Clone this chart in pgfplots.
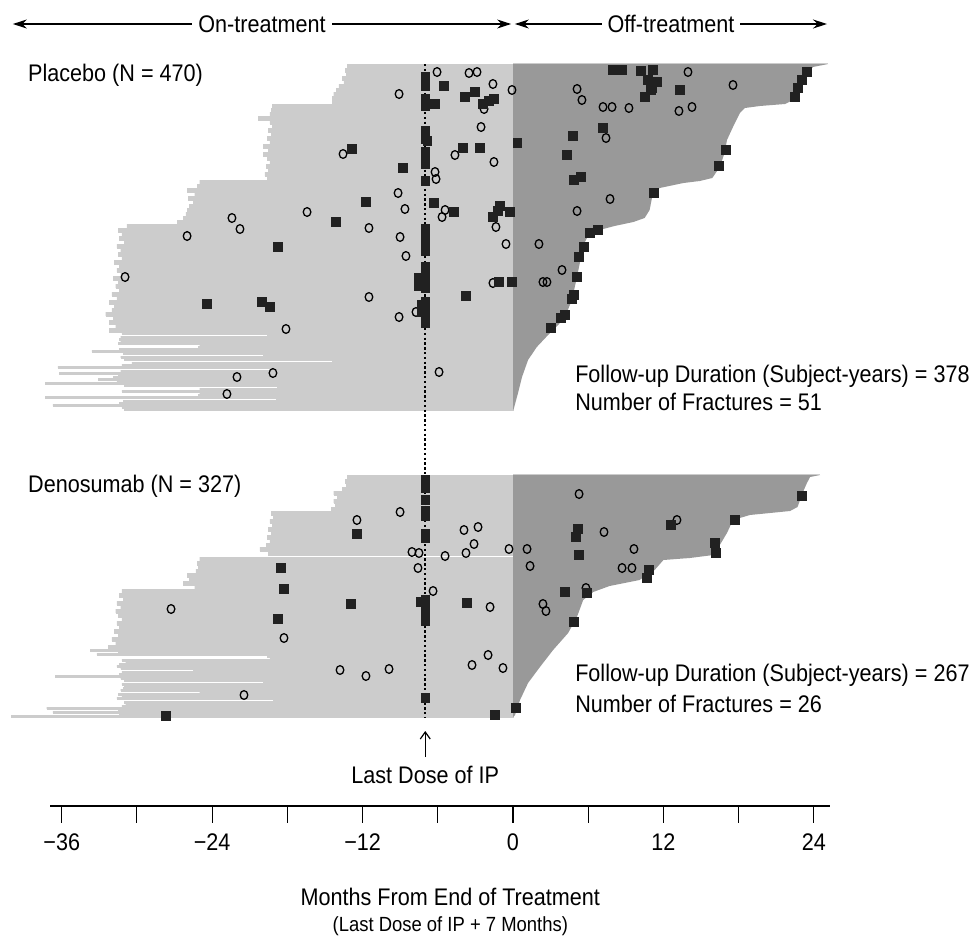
\documentclass[border=0pt]{standalone}
\usepackage{fontspec}
\setmainfont{Liberation Sans}[FakeStretch=0.9]
\usepackage{pgfplots}
\usepackage{pgfplotstable}
\pgfplotsset{compat=1.18}
\usetikzlibrary{arrows.meta}
\definecolor{lightg}{gray}{0.8}
\definecolor{darkg}{gray}{0.6}
\definecolor{mk}{gray}{0.13}

% on-treatment start (months) per row (y = row position)
\pgfplotstableread{
y s
66 -13.2
70 -13.4
74 -13.3
78 -13.6
82 -13.5
86 -13.9
90 -14.1
94 -14.3
98 -14.4
102 -14.4
106 -19.2
110 -19.3
114 -19.4
118 -20.3
122 -19.4
126 -19.2
130 -19.5
134 -19.3
138 -19.6
142 -19.4
146 -19.9
150 -19.5
154 -19.9
158 -19.6
162 -19.4
166 -19.7
170 -19.5
174 -19.8
178 -19.6
182 -25.0
186 -25.2
190 -26.0
194 -25.4
198 -25.9
202 -25.5
206 -25.8
210 -26.0
214 -26.1
218 -26.3
222 -26.8
226 -30.8
230 -31.5
234 -31.2
238 -31.4
242 -31.0
246 -31.6
250 -31.3
254 -31.5
258 -31.2
262 -31.8
266 -31.4
270 -31.6
274 -31.3
278 -31.9
282 -31.5
286 -31.7
290 -31.4
294 -32.0
298 -31.6
302 -32.2
306 -31.8
310 -32.0
314 -32.5
318 -31.9
322 -32.2
326 -31.7
330 -32.2
}\plA
\pgfplotstableread{
y s
333 -31.2
335 -19.6
337 -31.3
339 -31.4
341 -31.3
343 -31.5
345 -25.0
347 -25.1
349 -31.4
351 -33.6
353 -31.1
355 -19.9
357 -31.3
359 -31.0
361 -14.4
363 -30.4
365 -31.2
367 -36.3
369 -19.4
371 -31.3
373 -36.2
375 -31.5
377 -31.9
379 -33.1
381 -31.6
383 -37.3
385 -31.0
387 -18.8
389 -25.0
391 -31.2
393 -25.0
395 -25.1
397 -37.3
399 -18.9
401 -31.1
403 -31.4
405 -36.7
407 -31.2
409 -31.0
}\plE
\pgfplotstableread{
y s
477 -13.2
481 -13.4
485 -13.3
489 -13.6
493 -14.3
497 -14.0
501 -14.3
505 -14.2
509 -14.5
513 -19.3
517 -19.1
521 -19.4
525 -19.2
529 -19.5
533 -19.3
537 -19.6
541 -19.4
545 -19.7
549 -20.2
553 -19.5
559 -25.0
563 -25.2
567 -25.1
571 -25.3
575 -26.0
579 -25.8
583 -26.3
587 -25.4
591 -31.2
595 -31.4
599 -31.1
603 -31.6
607 -31.3
611 -31.7
615 -31.5
619 -31.2
623 -31.6
627 -31.4
631 -31.8
635 -31.5
639 -32.0
643 -31.7
647 -32.3
}\dnA
\pgfplotstableread{
y s
650 -33.7
652 -31.5
654 -33.2
656 -19.6
658 -19.4
660 -31.2
662 -30.9
664 -31.4
666 -31.6
668 -31.3
670 -25.5
672 -31.2
674 -31.4
676 -36.5
678 -31.3
680 -31.0
682 -19.9
684 -31.2
686 -31.0
688 -31.1
690 -31.3
692 -25.0
694 -31.5
696 -31.2
698 -31.6
700 -19.1
702 -31.0
704 -30.9
706 -31.2
708 -37.2
710 -31.5
712 -36.7
714 -31.4
716 -40.0
}\dnE

\begin{document}
\begin{tikzpicture}[font=\fontsize{24}{28}\selectfont]
\begin{axis}[
  scale only axis, width=970pt, height=937pt,
  xmin=-40.925, xmax=36.458, ymin=0, ymax=937, y dir=reverse,
  hide axis, clip=false,
]
% on-treatment (light) bars
\addplot[xbar, bar shift=0pt, bar width=4, fill=lightg, draw=lightg, line width=0.2pt] table[x=s,y=y] {\plA};
\addplot[xbar, bar shift=0pt, bar width=2, fill=lightg, draw=lightg, line width=0.2pt] table[x=s,y=y] {\plE};
\addplot[xbar, bar shift=0pt, bar width=4, fill=lightg, draw=lightg, line width=0.2pt] table[x=s,y=y] {\dnA};
\addplot[xbar, bar shift=0pt, bar width=2, fill=lightg, draw=lightg, line width=0.2pt] table[x=s,y=y] {\dnE};
% off-treatment (dark) areas
\addplot[fill=darkg, draw=none] coordinates {(0,64) (25.13,64) (23.93,67) (23.29,77) (22.8,88) (22.34,100) (21.7,104) (19.7,106) (18.5,108) (18.1,113) (17.55,127) (17.07,140) (16.9,152) (16.5,167) (15.9,178) (14.9,181) (13.6,183) (11.7,188) (11.25,193) (11.1,197) (10.9,210) (10.5,218) (9.6,222) (8.1,226) (6.9,230) (6.1,233) (5.7,243) (5.5,253) (5.0,283) (4.7,300) (4.15,317) (3.6,325) (2.95,333) (1.9,347) (1.2,360) (0.72,377) (0.4,393) (0.08,408) (0,410)};
\addplot[fill=darkg, draw=none] coordinates {(0,475) (24.5,475) (23.7,477) (23.45,483) (23.1,493) (22.7,507) (22.1,511) (20.5,513) (18.9,515) (17.55,520) (17.07,533) (16.5,545) (16.0,555) (14.1,558) (12.0,560) (11.3,570) (10.1,580) (8.9,583) (7.7,586) (6.4,592) (5.6,600) (5.1,617) (4.4,633) (3.2,650) (2.15,667) (1.2,683) (0.56,700) (0.16,715) (0,717)};
\addplot[lightg, line width=1pt] coordinates {(0,63.8) (25.1,63.8)};
\addplot[lightg, line width=1pt] coordinates {(0,474.8) (24.5,474.8)};
% fractures: open circles
\addplot[only marks, mark=o, mark size=3.8, mark options={line width=1.3pt, draw=black, yscale=1.15}] coordinates {(-13.56,154) (-9.17,193) (-16.43,212) (-22.42,218) (-21.78,229) (-26.0,236) (-11.49,228) (-8.62,209) (-9.01,237) (-8.54,256) (-30.95,277) (-11.49,297) (-9.09,317) (-7.74,312) (-18.11,329) (-5.9,372) (-22.02,377) (-19.15,373) (-22.82,394) (-9.09,94) (-6.06,72) (-3.51,73) (-2.87,72) (-1.6,84) (-0.08,90) (-2.31,109) (-2.55,127) (-4.63,155) (-1.52,162) (-6.22,172) (-6.14,179) (-5.42,210) (-5.66,217) (-1.36,227) (-0.56,244) (-1.6,283) (13.96,72) (17.55,85) (5.11,89) (5.5,100) (7.18,107) (7.9,107) (9.25,108) (13.24,111) (14.28,107) (7.42,138) (7.74,199) (5.11,211) (2.07,244) (3.91,270) (2.39,282) (2.71,282)};
\addplot[only marks, mark=o, mark size=3.8, mark options={line width=1.3pt, draw=black, yscale=1.15}] coordinates {(-9.01,512) (-12.45,520) (-3.91,530) (-2.79,527) (-3.11,544) (-8.06,552) (-7.5,553) (-5.42,556) (-3.75,553) (-0.32,549) (-7.58,568) (-6.38,591) (-1.83,607) (-27.28,609) (-18.27,638) (-1.99,655) (-13.8,670) (-11.73,676) (-9.89,669) (-3.27,665) (-0.8,668) (-21.46,695) (5.27,494) (7.26,532) (13.08,520) (1.12,549) (9.65,549) (1.36,566) (8.7,568) (9.49,568) (5.82,588) (2.39,604) (2.63,611)};
% fractures: filled squares
\addplot[only marks, mark=square*, mark size=4.2, mark options={draw=mk, fill=mk, line width=0pt, yscale=1.08}] coordinates {(-12.84,149) (-8.78,168) (-11.73,202) (-14.12,222) (-18.75,247) (-24.41,304) (-20.02,302) (-19.39,307) (-5.5,86) (-3.83,97) (-3.03,92) (-6.22,104) (-2.39,104) (-1.91,101) (-1.52,99) (-3.99,148) (-2.63,148) (0.36,143) (-6.3,203) (-4.71,212) (-1.04,206) (-1.2,211) (-1.6,217) (-0.24,212) (-1.12,282) (-0.08,282) (-3.75,296) (7.98,70) (8.7,70) (10.21,71) (11.17,70) (10.77,80) (11.49,82) (11.09,88) (11.01,90) (10.53,97) (13.32,90) (23.45,72) (23.06,80) (22.74,88) (22.5,97) (7.18,128) (4.79,136) (4.31,155) (4.87,180) (5.42,177) (16.99,150) (16.43,166) (11.25,193) (6.14,233) (6.78,230) (5.66,247) (5.27,257) (5.11,277) (4.87,295) (4.71,299) (4.15,315) (3.83,318) (3.03,328)
(-7,77) (-7,81) (-7,86) (-7,99) (-7,103) (-7,106) (-7,131) (-7,135) (-7,139) (-6.8,141) (-7,152) (-7,156) (-7,160) (-7,164) (-7,181) (-7,229) (-7,233) (-7,237) (-7,241) (-7,245) (-7,249) (-7,251) (-7,267) (-7,271) (-7,275) (-7,279) (-7,283) (-7,288) (-7.5,278) (-7.5,286) (-7,302) (-7,306) (-7,310) (-7,314) (-7,318) (-7,323) (-7.3,305) (-7.3,312)};
\addplot[only marks, mark=square*, mark size=4.2, mark options={draw=mk, fill=mk, line width=0pt, yscale=1.08}] coordinates {(-12.45,534) (-18.51,568) (-18.27,589) (-12.92,604) (-3.67,603) (-18.75,619) (-27.68,716) (-1.44,715) (0.24,708) (23.06,496) (5.19,529) (5.03,537) (12.6,525) (17.71,520) (16.11,543) (16.19,553) (5.27,555) (10.85,570) (10.69,578) (4.15,592) (5.9,593) (4.87,622)
(-7,480) (-7,484) (-7,488) (-7,500) (-7,511) (-7,516) (-7,534) (-7,538) (-7,600) (-7,604) (-7,608) (-7,612) (-7,616) (-7,621) (-7.34,602) (-7,698)};
% last dose line
\addplot[black, line width=1.6pt, dash pattern=on 2.4pt off 2.4pt] coordinates {(-7,64) (-7,717)};
\draw[-{Straight Barb[length=7pt,width=10pt]}, line width=1.2pt] (axis cs:-7,757) -- (axis cs:-7,731);
\node[anchor=base] at (axis cs:-7,783) {Last Dose of IP};
% top arrows
\draw[{Stealth[length=14pt,width=9pt]}-{Stealth[length=14pt,width=9pt]}, line width=1.1pt] (axis cs:-39.9,24) -- (axis cs:-0.15,24) node[midway, fill=white, inner xsep=6pt, inner ysep=2pt] {On-treatment};
\draw[{Stealth[length=14pt,width=9pt]}-{Stealth[length=14pt,width=9pt]}, line width=1.1pt] (axis cs:0.15,24) -- (axis cs:25.05,24) node[midway, fill=white, inner xsep=6pt, inner ysep=2pt] {Off-treatment};
% panel labels
\node[anchor=base west, inner sep=0pt] at (axis cs:-38.69,81) {Placebo (N = 470)};
\node[anchor=base west, inner sep=0pt] at (axis cs:-38.69,492) {Denosumab (N = 327)};
\node[anchor=base west, inner sep=0pt] at (axis cs:4.95,382) {Follow-up Duration (Subject-years) = 378};
\node[anchor=base west, inner sep=0pt] at (axis cs:4.95,410) {Number of Fractures = 51};
\node[anchor=base west, inner sep=0pt] at (axis cs:4.95,681) {Follow-up Duration (Subject-years) = 267};
\node[anchor=base west, inner sep=0pt] at (axis cs:4.95,712) {Number of Fractures = 26};
% x axis
\addplot[black, line width=1.4pt] coordinates {(-36.9,806) (25.3,806)};
\pgfplotsinvokeforeach{-36,-30,-24,-18,-12,-6,0,6,12,18,24}{
  \draw[line width=1.1pt] (axis cs:#1,806) -- (axis cs:#1,823);
}
\node[anchor=base] at (axis cs:-36,850) {−36};
\node[anchor=base] at (axis cs:-24,850) {−24};
\node[anchor=base] at (axis cs:-12,850) {−12};
\node[anchor=base] at (axis cs:0,850) {0};
\node[anchor=base] at (axis cs:12,850) {12};
\node[anchor=base] at (axis cs:24,850) {24};
\node[anchor=base] at (axis cs:-5.0,905) {Months From End of Treatment};
\node[anchor=base, font=\fontsize{20.5}{24}\selectfont] at (axis cs:-5.0,931) {(Last Dose of IP + 7 Months)};
\end{axis}
\pgfresetboundingbox
\path (current axis.south west) rectangle (current axis.north east);
\end{tikzpicture}
\end{document}
